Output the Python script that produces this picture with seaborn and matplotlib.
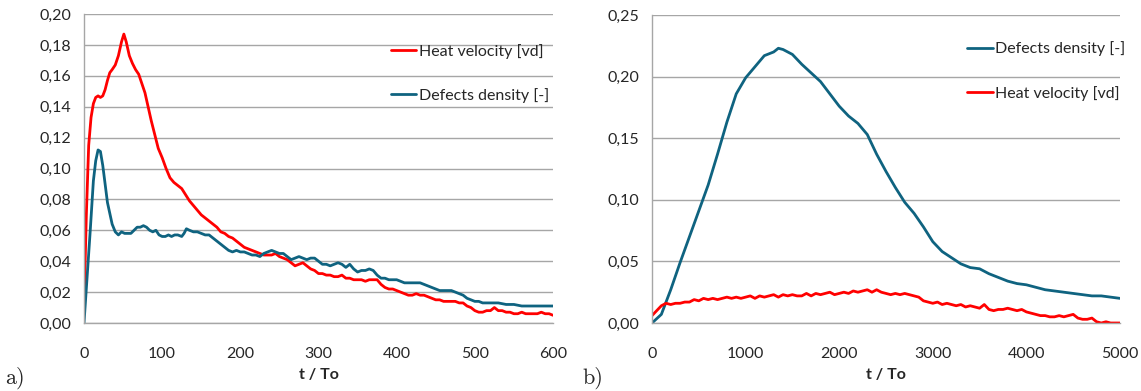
import numpy as np
import pandas as pd
import matplotlib
matplotlib.use("Agg")
import matplotlib.pyplot as plt
from matplotlib.ticker import FuncFormatter
import seaborn as sns

# ---------------- data: panel a) ----------------
a_heat_t = [0, 3, 6, 9, 12, 15, 18, 21, 24, 27, 30, 33, 36, 40, 44, 48, 51, 54, 58, 62, 66, 70, 74, 78,
            82, 86, 90, 95, 100, 105, 110, 115, 120, 125, 130, 135, 140, 145, 150, 155, 160, 165, 170,
            175, 180, 185, 190, 195, 200, 205, 210, 215, 220, 225, 230, 235, 240, 245, 250, 255, 260,
            265, 270, 275, 280, 285, 290, 295, 300, 305, 310, 315, 320, 325, 330, 335, 340, 345, 350,
            355, 360, 365, 370, 375, 380, 385, 390, 395, 400, 405, 410, 415, 420, 425, 430, 435, 440,
            445, 450, 455, 460, 465, 470, 475, 480, 485, 490, 495, 500, 505, 510, 515, 520, 525, 530,
            535, 540, 545, 550, 555, 560, 565, 570, 575, 580, 585, 590, 595, 600]
a_heat_v = [0.010, 0.070, 0.115, 0.133, 0.142, 0.146, 0.147, 0.146, 0.147, 0.151, 0.157, 0.162, 0.164,
            0.167, 0.173, 0.182, 0.187, 0.182, 0.173, 0.168, 0.164, 0.161, 0.155, 0.149, 0.140, 0.131,
            0.123, 0.113, 0.107, 0.100, 0.094, 0.091, 0.089, 0.087, 0.083, 0.079, 0.076, 0.073, 0.070,
            0.068, 0.066, 0.064, 0.062, 0.059, 0.058, 0.056, 0.055, 0.053, 0.051, 0.049, 0.048, 0.047,
            0.046, 0.045, 0.044, 0.044, 0.044, 0.045, 0.043, 0.042, 0.041, 0.039, 0.037, 0.038, 0.039,
            0.037, 0.035, 0.034, 0.032, 0.032, 0.031, 0.031, 0.030, 0.030, 0.031, 0.029, 0.029, 0.028,
            0.028, 0.028, 0.027, 0.028, 0.028, 0.028, 0.025, 0.023, 0.022, 0.022, 0.021, 0.020, 0.019,
            0.018, 0.018, 0.019, 0.018, 0.018, 0.017, 0.016, 0.015, 0.015, 0.014, 0.014, 0.014, 0.014,
            0.013, 0.013, 0.011, 0.010, 0.008, 0.007, 0.007, 0.008, 0.008, 0.010, 0.008, 0.008, 0.007,
            0.007, 0.006, 0.006, 0.007, 0.006, 0.006, 0.006, 0.006, 0.007, 0.006, 0.006, 0.005]

a_def_t = [0, 4, 8, 12, 15, 18, 21, 24, 27, 30, 33, 36, 40, 44, 48, 52, 56, 60, 64, 68, 72, 76, 80, 84,
           88, 92, 96, 100, 104, 108, 112, 116, 120, 125, 128, 131, 135, 140, 145, 150, 155, 160, 165,
           170, 175, 180, 185, 190, 195, 200, 205, 210, 215, 220, 225, 230, 235, 240, 245, 250, 255,
           260, 265, 270, 275, 280, 285, 290, 295, 300, 305, 310, 315, 320, 325, 330, 335, 340, 345,
           350, 355, 360, 365, 370, 375, 380, 385, 390, 395, 400, 405, 410, 415, 420, 425, 430, 435,
           440, 445, 450, 455, 460, 465, 470, 475, 480, 485, 490, 495, 500, 505, 510, 515, 520, 525,
           530, 540, 550, 560, 570, 580, 590, 600]
a_def_v = [0.000, 0.030, 0.060, 0.092, 0.105, 0.112, 0.111, 0.102, 0.090, 0.078, 0.071, 0.064, 0.059,
           0.057, 0.059, 0.058, 0.058, 0.058, 0.060, 0.062, 0.062, 0.063, 0.062, 0.060, 0.059, 0.060,
           0.057, 0.056, 0.056, 0.057, 0.056, 0.057, 0.057, 0.056, 0.058, 0.061, 0.060, 0.059, 0.059,
           0.058, 0.057, 0.057, 0.055, 0.053, 0.051, 0.049, 0.047, 0.046, 0.047, 0.046, 0.046, 0.045,
           0.044, 0.044, 0.043, 0.045, 0.046, 0.047, 0.046, 0.045, 0.045, 0.043, 0.041, 0.042, 0.043,
           0.042, 0.041, 0.042, 0.042, 0.040, 0.038, 0.038, 0.037, 0.038, 0.039, 0.038, 0.036, 0.038,
           0.035, 0.033, 0.034, 0.034, 0.035, 0.034, 0.031, 0.029, 0.029, 0.028, 0.028, 0.028, 0.027,
           0.026, 0.026, 0.026, 0.026, 0.026, 0.025, 0.024, 0.023, 0.022, 0.021, 0.021, 0.021, 0.021,
           0.020, 0.019, 0.018, 0.016, 0.015, 0.014, 0.014, 0.013, 0.013, 0.013, 0.013, 0.013, 0.012,
           0.012, 0.011, 0.011, 0.011, 0.011, 0.011]

# ---------------- data: panel b) ----------------
b_def_t = [0, 100, 200, 300, 400, 500, 600, 700, 800, 900, 1000, 1100, 1200, 1300, 1350, 1400, 1500,
           1600, 1700, 1800, 1900, 2000, 2100, 2200, 2300, 2400, 2500, 2600, 2700, 2800, 2900, 3000,
           3100, 3200, 3300, 3400, 3500, 3600, 3700, 3800, 3900, 4000, 4100, 4200, 4300, 4400, 4500,
           4600, 4700, 4800, 4900, 5000]
b_def_v = [0.000, 0.007, 0.027, 0.049, 0.070, 0.091, 0.112, 0.137, 0.163, 0.186, 0.199, 0.208, 0.217,
           0.220, 0.223, 0.222, 0.218, 0.210, 0.203, 0.196, 0.186, 0.176, 0.168, 0.162, 0.153, 0.137,
           0.123, 0.110, 0.098, 0.089, 0.078, 0.066, 0.058, 0.053, 0.048, 0.045, 0.044, 0.040, 0.037,
           0.034, 0.032, 0.031, 0.029, 0.027, 0.026, 0.025, 0.024, 0.023, 0.022, 0.022, 0.021, 0.020]

b_heat_t = [0, 50, 100, 150, 200, 250, 300, 350, 400, 450, 500, 550, 600, 650, 700, 750, 800, 850,
            900, 950, 1000, 1050, 1100, 1150, 1200, 1250, 1300, 1350, 1400, 1450, 1500, 1550, 1600,
            1650, 1700, 1750, 1800, 1850, 1900, 1950, 2000, 2050, 2100, 2150, 2200, 2250, 2300, 2350,
            2400, 2450, 2500, 2550, 2600, 2650, 2700, 2750, 2800, 2850, 2900, 2950, 3000, 3050, 3100,
            3150, 3200, 3250, 3300, 3350, 3400, 3450, 3500, 3550, 3600, 3650, 3700, 3750, 3800, 3850,
            3900, 3950, 4000, 4050, 4100, 4150, 4200, 4250, 4300, 4350, 4400, 4450, 4500, 4550, 4600,
            4650, 4700, 4750, 4800, 4850, 4900, 4950, 5000]
b_heat_v = [0.006, 0.010, 0.014, 0.016, 0.015, 0.016, 0.016, 0.017, 0.017, 0.019, 0.018, 0.020, 0.019,
            0.020, 0.019, 0.020, 0.021, 0.020, 0.021, 0.020, 0.021, 0.022, 0.020, 0.022, 0.021, 0.022,
            0.023, 0.021, 0.023, 0.022, 0.023, 0.022, 0.022, 0.024, 0.022, 0.024, 0.023, 0.024, 0.025,
            0.023, 0.024, 0.025, 0.024, 0.026, 0.025, 0.026, 0.027, 0.025, 0.027, 0.025, 0.024, 0.023,
            0.024, 0.023, 0.024, 0.023, 0.022, 0.021, 0.018, 0.017, 0.016, 0.017, 0.015, 0.016, 0.015,
            0.014, 0.015, 0.013, 0.014, 0.013, 0.012, 0.015, 0.011, 0.010, 0.011, 0.011, 0.012, 0.011,
            0.010, 0.011, 0.009, 0.008, 0.007, 0.006, 0.006, 0.005, 0.005, 0.006, 0.005, 0.006, 0.007,
            0.004, 0.003, 0.003, 0.004, 0.001, 0.000, 0.001, 0.000, 0.000, 0.000]

HEAT = "Heat velocity [vd]"
DEF = "Defects density [-]"
RED = "#ff0000"
BLUE = "#0f6380"

sns.set_style("white")
plt.rcParams["font.family"] = ["Lato", "DejaVu Sans"]

fig = plt.figure(figsize=(11.41, 3.91), dpi=100)
axA = fig.add_axes([84 / 1141, 1 - 323 / 391, (553 - 84) / 1141, (323 - 14) / 391])
axB = fig.add_axes([652 / 1141, 1 - 323 / 391, (1120 - 652) / 1141, (323 - 15) / 391])

dfA = pd.concat([
    pd.DataFrame({"t": a_heat_t, "v": a_heat_v, "s": HEAT}),
    pd.DataFrame({"t": a_def_t, "v": a_def_v, "s": DEF}),
])
dfB = pd.concat([
    pd.DataFrame({"t": b_def_t, "v": b_def_v, "s": DEF}),
    pd.DataFrame({"t": b_heat_t, "v": b_heat_v, "s": HEAT}),
])

sns.lineplot(data=dfA, x="t", y="v", hue="s", palette={HEAT: RED, DEF: BLUE},
             linewidth=2.0, ax=axA, sort=False, estimator=None)
sns.lineplot(data=dfB, x="t", y="v", hue="s", palette={HEAT: RED, DEF: BLUE},
             linewidth=2.0, ax=axB, sort=False, estimator=None)

comma = FuncFormatter(lambda v, p: f"{v:.2f}".replace(".", ","))
grid_c = "#a6a6a6"
for ax, xmax, xstep, ymax, ystep in [(axA, 600, 100, 0.20, 0.02), (axB, 5000, 1000, 0.25, 0.05)]:
    ax.set_xlim(0, xmax)
    ax.set_ylim(0, ymax)
    ax.set_xticks(np.arange(0, xmax + 1, xstep))
    ax.set_yticks(np.round(np.arange(0, ymax + 1e-9, ystep), 2))
    ax.yaxis.set_major_formatter(comma)
    ax.grid(axis="y", color=grid_c, linewidth=1.0)
    ax.grid(axis="x", visible=False)
    ax.set_axisbelow(True)
    for s in ["top", "right"]:
        ax.spines[s].set_visible(False)
    for s in ["left", "bottom"]:
        ax.spines[s].set_color(grid_c)
        ax.spines[s].set_linewidth(1.0)
    ax.tick_params(axis="both", which="major", direction="out", length=5, width=1.0,
                   color=grid_c, labelsize=11.5, labelcolor="#262626", pad=4)
    ax.tick_params(axis="x", pad=12)
    ax.set_xlabel("t / To", fontsize=11.5, fontweight="bold", labelpad=5)
    ax.set_ylabel("")

legA = axA.legend(loc="upper left", bbox_to_anchor=(0.64, 0.925), frameon=False, fontsize=11.5,
                  handlelength=1.6, handletextpad=0.15, labelspacing=1.85, borderaxespad=0)
legB = axB.legend(loc="upper left", bbox_to_anchor=(0.66, 0.935), frameon=False, fontsize=11.5,
                  handlelength=1.6, handletextpad=0.15, labelspacing=1.85, borderaxespad=0)
for leg in (legA, legB):
    for h in leg.get_lines():
        h.set_linewidth(2.0)

fig.text(5 / 1141, 1 - 378 / 391, "a)", fontfamily="cmr10", fontsize=16, va="center", ha="left")
fig.text(582 / 1141, 1 - 378 / 391, "b)", fontfamily="cmr10", fontsize=16, va="center", ha="left")

fig.savefig("out.png", dpi=100)
